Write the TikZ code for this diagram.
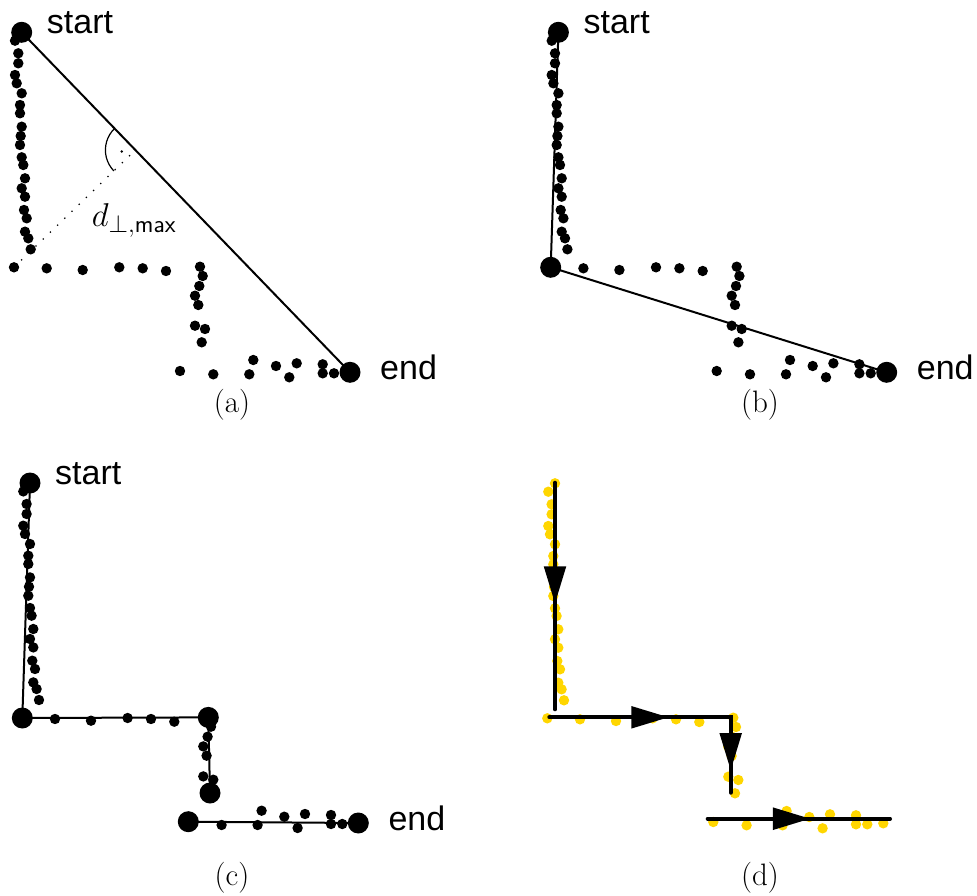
\RequirePackage{fix-cm}
\documentclass[tikz,border=0pt]{standalone}
\usepackage{fontspec}
\newfontfamily\labfont{Liberation Sans}
\usetikzlibrary{calc,decorations.markings}
\DeclareMathSizes{33}{33}{25}{19}
\definecolor{ptyellow}{RGB}{255,214,0}
\newcommand\cloudpts{21.7/32.3, 15/40.7, 18.3/53.3, 18.3/63.3, 15/75, 16.7/83.3, 21.7/93.3, 20/105, 20/113.3, 21.7/126.7, 20.7/136, 20/145, 21.7/157.3, 23.3/165, 25/178.3, 21.7/188.3, 25/196.7, 24/210, 26.7/218.3, 25/231.7, 28.3/238.3, 30.7/249.3, 14/267.3, 46.7/268.3, 82.7/270, 119.3/267.3, 142.7/268.3, 166/271, 200/266.7, 202.7/276, 199.3/286, 195/295.7, 198.3/305, 195/325.7, 205/329, 201.7/342.3, 180/371, 213.3/374.3, 249.3/374.3, 253.3/360, 276/366, 289.3/377.3, 296.7/363.3, 322.7/364.3, 322.7/373.3, 334/373.3, 350/372.3}
\newcommand\drawcloud[1]{\foreach \px/\py in \cloudpts {\fill[#1] (\px,\py) circle (5.2pt);}}
\begin{document}
\begin{tikzpicture}[x=1pt,y=-1pt,
  conn/.style={draw=black,line width=2pt},
  dotline/.style={draw=black,line width=1.3pt,dash pattern=on 1.3pt off 8.7pt},
  anglearc/.style={draw=black,line width=1.2pt},
  bigdot/.style={fill=black},
  lab/.style={inner sep=0pt,font=\labfont\fontsize{34}{40}\selectfont},
  mathlab/.style={inner sep=0pt,font=\fontsize{33}{40}\selectfont},
  captext/.style={inner sep=0pt,anchor=base,font=\fontsize{31}{36}\selectfont},
  thickline/.style={draw=black,line width=4pt,line cap=round,line join=miter},
  midtri/.style={postaction={decorate,decoration={markings,
     mark=at position #1 with {\fill[black] (0pt,0pt) -- (-37pt,11.3pt) -- (-37pt,-11.3pt) -- cycle;}}}}
]
\useasboundingbox (0,0) rectangle (977,896);

% ---------- panel (a)
\begin{scope}
  \coordinate (aS) at (21.7,32.3);
  \coordinate (aE) at (350,372.3);
  \coordinate (aP) at (14,267.3);
  \coordinate (aF) at ($(aS)!(aP)!(aE)$);
  \drawcloud{black}
  \draw[conn] (aS) -- (aE);
  \draw[dotline] (aP) -- (aF);
  \draw[anglearc] (aF) ++(133.9:30pt) arc[start angle=133.9,end angle=224.1,radius=30pt];
  \fill (121.7,151.5) circle (1.3pt);
  \fill[bigdot] (aS) circle (10.5pt);
  \fill[bigdot] (aE) circle (10.5pt);
  \node[lab,anchor=base west] (aSt) at ($(aS)+(25,1.5)$) {start};
  \node[lab,anchor=base west] (aEn) at ($(aE)+(30,7.5)$) {end};
  \node[mathlab,anchor=base west] (aD) at (91.7,226.7) {$d_{\perp,\mathsf{max}}$};
\end{scope}

% ---------- panel (b)
\begin{scope}[shift={(536.7,0)}]
  \coordinate (bS) at (21.7,32.3);
  \coordinate (bC) at (14,267.3);
  \coordinate (bE) at (350,372.3);
  \drawcloud{black}
  \draw[conn] (bS) -- (bC) -- (bE);
  \fill[bigdot] (bS) circle (10.5pt);
  \fill[bigdot] (bC) circle (10.5pt);
  \fill[bigdot] (bE) circle (10.5pt);
  \node[lab,anchor=base west] (bSt) at ($(bS)+(25,1.5)$) {start};
  \node[lab,anchor=base west] (bEn) at ($(bE)+(30,7.5)$) {end};
\end{scope}

% ---------- panel (c)
\begin{scope}[shift={(8.3,450.7)}]
  \coordinate (cS) at (21.7,32.3);
  \coordinate (cC1) at (14,267.3);
  \coordinate (cC2) at (200,266.7);
  \coordinate (cC3) at (201.7,342.3);
  \coordinate (cC4) at (180,371);
  \coordinate (cE) at (350,372.3);
  \drawcloud{black}
  \draw[conn] (cS) -- (cC1) -- (cC2) -- (cC3);
  \draw[conn] (cC4) -- (cE);
  \foreach \n in {cS,cC1,cC2,cC3,cC4,cE} {\fill[bigdot] (\n) circle (10.5pt);}
  \node[lab,anchor=base west] (cSt) at ($(cS)+(25,1.5)$) {start};
  \node[lab,anchor=base west] (cEn) at ($(cE)+(30,7.5)$) {end};
\end{scope}

% ---------- panel (d)
\begin{scope}[shift={(533.3,451)}]
  \coordinate (d1a) at (21.7,31.7);
  \coordinate (d1b) at (21.7,258.3);
  \coordinate (d2a) at (16,266.3);
  \coordinate (d2b) at (197.4,266.3);
  \coordinate (d2c) at (197.4,341.7);
  \coordinate (d4a) at (174.4,367.7);
  \coordinate (d4b) at (356.7,367.7);
  \drawcloud{ptyellow}
  \draw[thickline] (d1a) -- (d1b);
  \path[midtri=0.532] (d1a) -- (d1b);
  \draw[thickline] (d2a) -- (d2b) -- (d2c);
  \path[midtri=0.656] (d2a) -- (d2b);
  \path[midtri=0.699] (d2b) -- (d2c);
  \draw[thickline] (d4a) -- (d4b);
  \path[midtri=0.561] (d4a) -- (d4b);
\end{scope}

% ---------- captions
\node[captext] (capA) at (232,412.5) {(a)};
\node[captext] (capB) at (760,412.5) {(b)};
\node[captext] (capC) at (232,885.7) {(c)};
\node[captext] (capD) at (760,885.7) {(d)};
\end{tikzpicture}
\end{document}
